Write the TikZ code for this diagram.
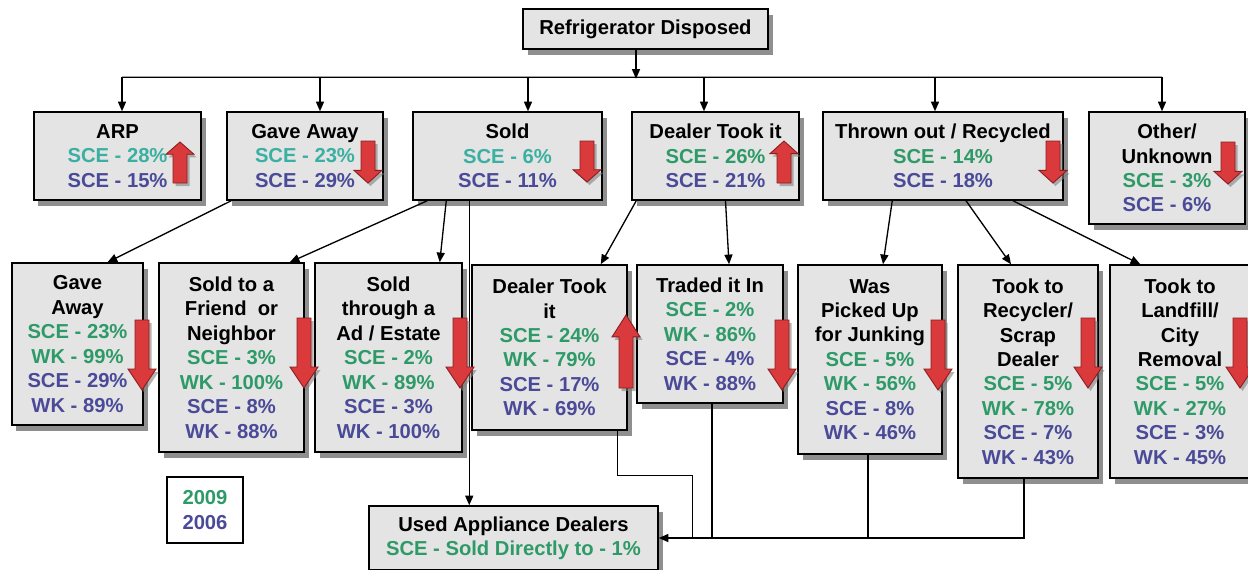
\documentclass[tikz,border=0pt]{standalone}
\usepackage{fontspec}
\setmainfont{Liberation Sans}
\usetikzlibrary{arrows.meta,shadows,calc}

\definecolor{boxgray}{HTML}{E4E4E4}
\definecolor{teal09}{HTML}{3AB0A2}
\definecolor{green09}{HTML}{2E9A68}
\definecolor{blue06}{HTML}{4A4A98}
\definecolor{trendred}{HTML}{DA3A3C}
\definecolor{trendedge}{HTML}{8A1E1E}

\newcommand{\tealtxt}[1]{\textcolor{teal09}{#1}}
\newcommand{\greentxt}[1]{\textcolor{green09}{#1}}
\newcommand{\bluetxt}[1]{\textcolor{blue06}{#1}}

% red trend arrows: x, top, bottom
\newcommand{\trenddown}[3]{%
  \draw[trend] (#1-7,#2) -- (#1+7,#2) -- (#1+7,{#3-0.3*(#3-#2)}) -- (#1+14,{#3-0.3*(#3-#2)})
    -- (#1,#3) -- (#1-14,{#3-0.3*(#3-#2)}) -- (#1-7,{#3-0.3*(#3-#2)}) -- cycle;}
\newcommand{\trendup}[3]{%
  \draw[trend] (#1-7,#3) -- (#1+7,#3) -- (#1+7,{#2+0.3*(#3-#2)}) -- (#1+14,{#2+0.3*(#3-#2)})
    -- (#1,#2) -- (#1-14,{#2+0.3*(#3-#2)}) -- (#1-7,{#2+0.3*(#3-#2)}) -- cycle;}

\begin{document}
\begin{tikzpicture}[x=0.2mm, y=-0.2mm,
  font=\fontsize{11.5}{13.9}\selectfont\bfseries,
  box/.style={draw=black, line width=0.85pt, fill=boxgray, align=center, inner sep=2pt,
    drop shadow={shadow xshift=0.9mm, shadow yshift=-1.1mm, fill=black!55, opacity=0.8}},
  legend/.style={draw=black, line width=0.6pt, fill=white, align=center,
    minimum width=15.2mm, minimum height=13.2mm},
  conn/.style={draw=black, line width=0.75pt},
  toarrow/.style={-{Triangle[length=5.5pt,width=4.6pt]}},
  trend/.style={fill=trendred, draw=trendedge, line width=0.5pt,
    drop shadow={shadow xshift=0.5mm, shadow yshift=-0.6mm, fill=black!50, opacity=0.6}}]
\useasboundingbox (0,0) rectangle (1248,569);

% Root
\node[box, minimum width=49mm, minimum height=8mm] (root) at (645.5,29) {Refrigerator Disposed};

% First level
\node[box, minimum width=33.4mm, minimum height=17.6mm] (arp) at (117.5,156)
  {ARP\\\tealtxt{SCE - 28\%}\\\bluetxt{SCE - 15\%}};
\node[box, minimum width=31.2mm, minimum height=17.6mm] (gave1) at (305,156)
  {Gave Away\\\tealtxt{SCE - 23\%}\\\bluetxt{SCE - 29\%}};
\node[box, minimum width=37.8mm, minimum height=17.6mm] (sold) at (507.5,156)
  {Sold\\\tealtxt{SCE - 6\%}\\\bluetxt{SCE - 11\%}};
\node[box, minimum width=33.4mm, minimum height=17.6mm] (dealer1) at (715.5,156)
  {Dealer Took it\\\greentxt{SCE - 26\%}\\\bluetxt{SCE - 21\%}};
\node[box, minimum width=48mm, minimum height=17.6mm] (thrown) at (943,156)
  {Thrown out / Recycled\\\greentxt{SCE - 14\%}\\\bluetxt{SCE - 18\%}};
\node[box, minimum width=31.2mm, minimum height=22.4mm] (other) at (1167,168)
  {Other/\\Unknown\\\greentxt{SCE - 3\%}\\\bluetxt{SCE - 6\%}};

% Second level
\node[box, minimum width=26.2mm, minimum height=32.4mm] (gave2) at (77.5,344)
  {Gave\\Away\\\greentxt{SCE - 23\%}\\\greentxt{WK - 99\%}\\\bluetxt{SCE - 29\%}\\\bluetxt{WK - 89\%}};
\node[box, minimum width=29mm, minimum height=37.8mm] (friend) at (231.5,357.5)
  {Sold to a\\Friend~ or\\Neighbor\\\greentxt{SCE - 3\%}\\\greentxt{WK - 100\%}\\\bluetxt{SCE - 8\%}\\\bluetxt{WK - 88\%}};
\node[box, minimum width=29.4mm, minimum height=37.8mm] (through) at (388.5,357.5)
  {Sold\\through a\\Ad / Estate\\\greentxt{SCE - 2\%}\\\greentxt{WK - 89\%}\\\bluetxt{SCE - 3\%}\\\bluetxt{WK - 100\%}};
\node[box, minimum width=31mm, minimum height=33mm] (dealer2) at (549.5,347.5)
  {Dealer Took\\it\\\greentxt{SCE - 24\%}\\\greentxt{WK - 79\%}\\\bluetxt{SCE - 17\%}\\\bluetxt{WK - 69\%}};
\node[box, minimum width=29.2mm, minimum height=27.6mm] (traded) at (710,334)
  {Traded it In\\\greentxt{SCE - 2\%}\\\greentxt{WK - 86\%}\\\bluetxt{SCE - 4\%}\\\bluetxt{WK - 88\%}};
\node[box, minimum width=28.8mm, minimum height=37.8mm] (picked) at (870,359.5)
  {Was\\Picked Up\\for Junking\\\greentxt{SCE - 5\%}\\\greentxt{WK - 56\%}\\\bluetxt{SCE - 8\%}\\\bluetxt{WK - 46\%}};
\node[box, minimum width=28mm, minimum height=42.6mm] (recyc) at (1028,371.5)
  {Took to\\Recycler/\\Scrap\\Dealer\\\greentxt{SCE - 5\%}\\\greentxt{WK - 78\%}\\\bluetxt{SCE - 7\%}\\\bluetxt{WK - 43\%}};
\node[box, minimum width=28mm, minimum height=42.6mm] (landfill) at (1180,371.5)
  {Took to\\Landfill/\\City\\Removal\\\greentxt{SCE - 5\%}\\\greentxt{WK - 27\%}\\\bluetxt{SCE - 3\%}\\\bluetxt{WK - 45\%}};

% Bottom box and legend
\node[box, minimum width=57.8mm, minimum height=12.8mm] (used) at (513.5,538)
  {Used Appliance Dealers\\\greentxt{SCE - Sold Directly to - 1\%}};
\node[legend] (key) at (205,510) {\greentxt{2009}\\\bluetxt{2006}};

% Root to first level
\draw[conn,toarrow] ([xshift=-1.9mm]root.south) -- ++(0,29);
\draw[conn] ($(arp.north)+(4.5,-34)$) -- ($(other.north)+(-5,-34)$);
\draw[conn,toarrow] ($(arp.north)+(4.5,-34)$) -- ($(arp.north)+(4.5,0)$);
\draw[conn,toarrow] ($(gave1.north)+(15,-34)$) -- ($(gave1.north)+(15,0)$);
\draw[conn,toarrow] ($(sold.north)+(20.5,-34)$) -- ($(sold.north)+(20.5,0)$);
\draw[conn,toarrow] ($(dealer1.north)+(-11.5,-34)$) -- ($(dealer1.north)+(-11.5,0)$);
\draw[conn,toarrow] ($(thrown.north)+(-8,-34)$) -- ($(thrown.north)+(-8,0)$);
\draw[conn,toarrow] ($(other.north)+(-5,-34)$) -- ($(other.north)+(-5,0)$);

% First level to second level
\draw[conn,toarrow] ($(gave1.south west)+(5,0)$) -- ($(gave2.north)+(30,0)$);
\draw[conn,toarrow] ($(sold.south west)+(15,0)$) -- ($(friend.north east)+(-15,0)$);
\draw[conn,toarrow] ($(sold.south west)+(34,0)$) -- ($(through.north east)+(-23,0)$);
\coordinate (drop) at ($(sold.south west)+(57,0)$);
\draw[conn,toarrow] (drop) -- (drop |- used.north);
\draw[conn,toarrow] ($(dealer1.south west)+(5,0)$) -- ($(dealer2.north east)+(-27,0)$);
\draw[conn,toarrow] ($(dealer1.south)+(10,0)$) -- ($(traded.north)+(19,0)$);
\draw[conn,toarrow] ($(thrown.south west)+(70,0)$) -- ($(picked.north)+(13,0)$);
\draw[conn,toarrow] ($(thrown.south)+(23,0)$) -- ($(recyc.north)+(-17,0)$);
\draw[conn,toarrow] ($(thrown.south)+(70,0)$) -- ($(landfill.north west)+(31,0)$);

% Second level to used appliance dealers
\coordinate (pickedout) at ($(picked.south)+(-2,0)$);
\coordinate (tradedout) at ($(traded.south)+(2,0)$);
\draw[conn,toarrow] ($(recyc.south)+(-4,0)$) |- (used.east);
\draw[conn] (pickedout) -- (pickedout |- used.east);
\draw[conn] (tradedout) -- (tradedout |- used.east);
\draw[conn] ($(dealer2.south east)+(-10,0)$) -- ++(0,45) -- ++(75,0) -- ++(0,63);

% Trend arrows
\trendup{180}{142}{183}
\trenddown{368}{141}{183}
\trenddown{587}{141}{182}
\trendup{784}{141}{183}
\trenddown{1053}{141}{183}
\trenddown{1228}{142}{184}
\trenddown{142}{320}{390}
\trenddown{304}{318}{388}
\trenddown{460}{318}{388}
\trendup{626}{315}{388}
\trenddown{782}{320}{390}
\trenddown{938}{320}{390}
\trenddown{1088}{318}{388}
\trenddown{1240}{318}{388}
\end{tikzpicture}
\end{document}
